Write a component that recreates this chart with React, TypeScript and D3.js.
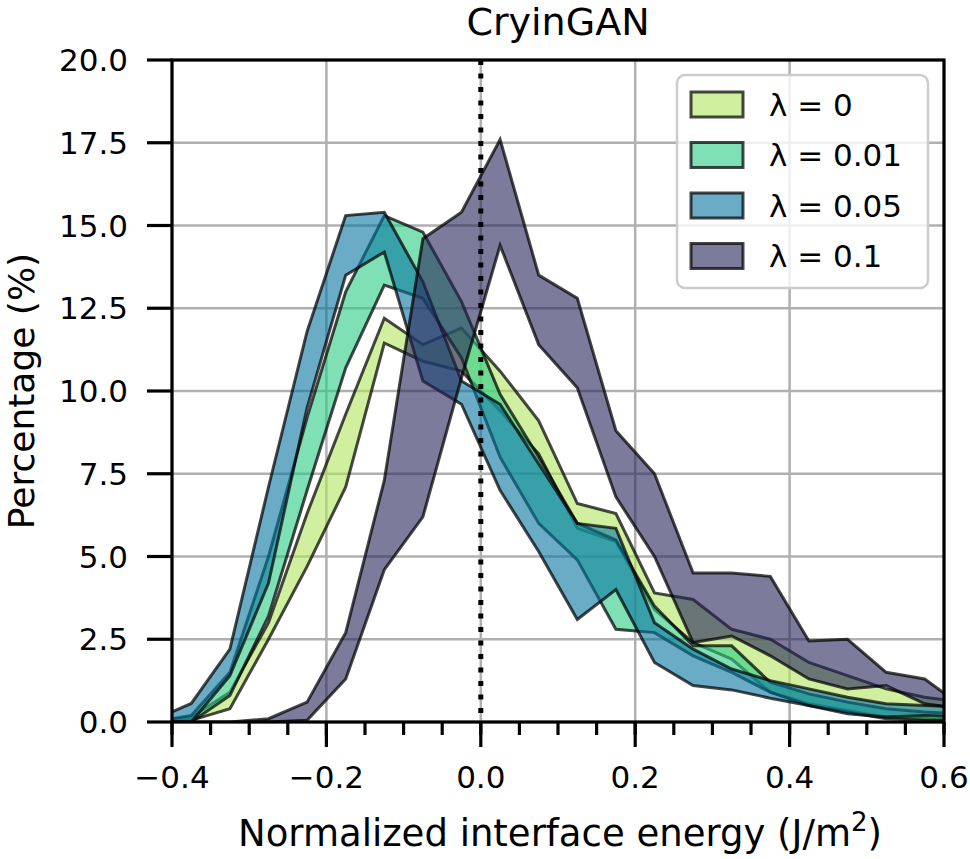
import React from "react";
import * as d3 from "d3";

// ---- data ----
const binCenters = [-0.425, -0.375, -0.325, -0.275, -0.225, -0.175, -0.125, -0.075, -0.025, 0.025, 0.075, 0.125, 0.175, 0.225, 0.275, 0.325, 0.375, 0.425, 0.475, 0.525, 0.575, 0.625];

const lambda0Upper = [0, 0.15, 0.9, 3.0, 6.3, 9.3, 12.2, 11.4, 11.9, 10.6, 9.1, 6.6, 6.3, 3.9, 3.7, 2.8, 2.5, 1.8, 1.4, 1.0, 0.75, 0.6];
const lambda0Lower = [0, 0.05, 0.4, 2.5, 4.7, 7.1, 11.45, 10.9, 10.6, 9.4, 8.1, 5.85, 5.45, 3.4, 2.4, 1.9, 0.9, 0.55, 0.35, 0.15, 0.1, 0.05];

const lambda001Upper = [0, 0.2, 1.5, 5.0, 9.2, 13.0, 15.3, 14.8, 12.7, 9.9, 8.0, 6.0, 5.5, 3.5, 2.3, 2.3, 1.2, 0.85, 0.6, 0.4, 0.3, 0.25];
const lambda001Lower = [0, 0.0, 0.8, 3.2, 7.0, 10.7, 13.2, 12.8, 11.0, 8.0, 6.0, 4.9, 2.8, 2.7, 2.0, 1.5, 0.9, 0.5, 0.3, 0.1, 0.05, 0.05];

const lambda005Upper = [0.05, 0.56, 2.2, 7.1, 11.8, 15.3, 15.4, 13.3, 10.3, 9.6, 7.8, 6.0, 5.85, 3.0, 2.2, 1.6, 1.25, 1.0, 0.75, 0.55, 0.5, 0.45];
const lambda005Lower = [0.0, 0.0, 1.4, 4.2, 9.5, 13.5, 14.2, 10.3, 9.6, 7.0, 5.15, 3.1, 4.0, 1.8, 1.1, 0.97, 0.72, 0.5, 0.25, 0.15, 0.2, 0.15];

const lambda01Upper = [0, 0, 0, 0.1, 0.6, 2.7, 7.3, 14.6, 15.4, 17.6, 13.5, 12.8, 8.8, 7.5, 4.5, 4.5, 4.4, 2.45, 2.5, 1.5, 1.3, 0.45];
const lambda01Lower = [0, 0, 0, 0, 0.05, 1.3, 4.6, 6.2, 10.4, 14.4, 11.4, 10.1, 6.8, 5.0, 2.4, 2.6, 2.0, 1.3, 1.0, 1.1, 0.55, 0.4];

const seriesLabels = ["λ = 0", "λ = 0.01", "λ = 0.05", "λ = 0.1"];
const seriesColors = ["#b1e661", "#2bcb84", "#0775a0", "#262358"];

const xMajorTicks = [-0.4, -0.2, 0.0, 0.2, 0.4, 0.6];
const xTickLabels = ["−0.4", "−0.2", "0.0", "0.2", "0.4", "0.6"];
const xMinorTicks = d3.range(-8, 13).map((k) => k * 0.05);
const yTicks = [0, 2.5, 5, 7.5, 10, 12.5, 15, 17.5, 20];
const yTickLabels = ["0.0", "2.5", "5.0", "7.5", "10.0", "12.5", "15.0", "17.5", "20.0"];

const W = 970;
const H = 859;
const left = 172, right = 944, top = 60, bottom = 722;
const FONT = "DejaVu Sans, sans-serif";

export default function App() {
  const x = d3.scaleLinear().domain([-0.4, 0.6]).range([left, right]);
  const y = d3.scaleLinear().domain([0, 20]).range([bottom, top]);

  const bands = [
    { upper: lambda0Upper, lower: lambda0Lower },
    { upper: lambda001Upper, lower: lambda001Lower },
    { upper: lambda005Upper, lower: lambda005Lower },
    { upper: lambda01Upper, lower: lambda01Lower },
  ];

  const bandPath = (upper: number[], lower: number[]) => {
    const pts: [number, number][] = [];
    binCenters.forEach((c, i) => pts.push([x(c), y(upper[i])]));
    for (let i = binCenters.length - 1; i >= 0; i--) pts.push([x(binCenters[i]), y(lower[i])]);
    return d3.line()(pts) + "Z";
  };

  const legendRows = [104.5, 155, 205.5, 256];

  return (
    <svg
      width={W}
      height={H}
      style={{ position: "absolute", left: 0, top: 0, background: "#fff" }}
      fontFamily={FONT}
    >
      <defs>
        <clipPath id="plotclip">
          <rect x={left} y={top} width={right - left} height={bottom - top} />
        </clipPath>
      </defs>
      <rect x={0} y={0} width={W} height={H} fill="#fff" />
      {/* grid */}
      <g stroke="#b0b0b0" strokeWidth={2.5}>
        {xMajorTicks.map((t) => (
          <line key={"gx" + t} x1={x(t)} x2={x(t)} y1={top} y2={bottom} />
        ))}
        {yTicks.map((t) => (
          <line key={"gy" + t} x1={left} x2={right} y1={y(t)} y2={y(t)} />
        ))}
      </g>
      {/* bands */}
      <g clipPath="url(#plotclip)">
        {bands.map((b, i) => (
          <path
            key={"band" + i}
            d={bandPath(b.upper, b.lower)}
            fill={seriesColors[i]}
            fillOpacity={0.6}
            stroke="#000"
            strokeOpacity={0.72}
            strokeWidth={3}
            strokeLinejoin="miter"
          />
        ))}
        <line
          x1={x(0)}
          x2={x(0)}
          y1={top}
          y2={bottom}
          stroke="#000"
          strokeWidth={5}
          strokeDasharray="5 8.5"
        />
      </g>
      {/* spines */}
      <rect x={left} y={top} width={right - left} height={bottom - top} fill="none" stroke="#000" strokeWidth={3.2} />
      {/* ticks */}
      <g stroke="#000" strokeWidth={3.2}>
        {xMinorTicks.map((t) => (
          <line key={"mx" + t} x1={x(t)} x2={x(t)} y1={bottom} y2={bottom + 13} />
        ))}
        {xMajorTicks.map((t) => (
          <line key={"Mx" + t} x1={x(t)} x2={x(t)} y1={bottom} y2={bottom + 25} />
        ))}
        {yTicks.map((t) => (
          <line key={"My" + t} x1={left - 25} x2={left} y1={y(t)} y2={y(t)} />
        ))}
      </g>
      <g fontSize={31} fill="#000">
        {xMajorTicks.map((t, i) => (
          <text key={"xl" + t} x={x(t)} y={788} textAnchor="middle">
            {xTickLabels[i]}
          </text>
        ))}
        {yTicks.map((t, i) => (
          <text key={"yl" + t} x={128} y={y(t) + 11} textAnchor="end">
            {yTickLabels[i]}
          </text>
        ))}
      </g>
      {/* legend */}
      <rect x={677} y={75} width={251} height={213} rx={8} fill="#fff" fillOpacity={0.8} stroke="#cccccc" strokeWidth={2.5} />
      {seriesLabels.map((lab, i) => (
        <g key={"leg" + i}>
          <rect
            x={691}
            y={legendRows[i] - 12.5}
            width={52}
            height={25}
            fill={seriesColors[i]}
            fillOpacity={0.6}
            stroke="#000"
            strokeOpacity={0.72}
            strokeWidth={3}
          />
          <text x={769} y={legendRows[i] + 11} fontSize={31}>
            {lab}
          </text>
        </g>
      ))}
      {/* titles */}
      <text x={558} y={35} fontSize={38} textAnchor="middle">
        CryinGAN
      </text>
      <text x={560} y={846} fontSize={37} textAnchor="middle">
        Normalized interface energy (J/m
        <tspan fontSize={26} dy={-15}>2</tspan>
        <tspan dy={15}>)</tspan>
      </text>
      <text transform={`translate(34, ${(top + bottom) / 2}) rotate(-90)`} fontSize={36} textAnchor="middle">
        Percentage (%)
      </text>
    </svg>
  );
}
